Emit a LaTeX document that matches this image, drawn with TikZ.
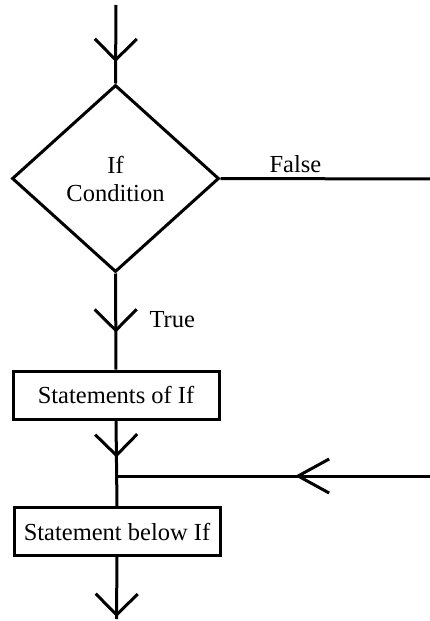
\documentclass[tikz,border=0pt]{standalone}
\usepackage{fontspec}
\setmainfont{Liberation Serif}
\usetikzlibrary{shapes.geometric,arrows.meta,decorations.markings}
\begin{document}
\begin{tikzpicture}[x=1pt,y=-1pt,
  line width=3pt, line join=miter,
  font=\fontsize{24.5}{28}\selectfont,
  decisionbox/.style={draw, diamond, inner sep=0pt, minimum width=207pt, minimum height=187pt, align=center},
  stepbox/.style={draw, rectangle, inner sep=0pt, minimum width=206pt, minimum height=48pt},
  flowlabel/.style={anchor=base west, inner sep=0pt},
  vbarb/.style={postaction={decorate}, decoration={markings,
    mark=at position #1 with {\arrow{Straight Barb[length=21pt,width=42pt]}}}},
  hbarb/.style={postaction={decorate}, decoration={markings,
    mark=at position #1 with {\arrow{Straight Barb[length=31pt,width=34pt]}}}}
]
\useasboundingbox (0,0) rectangle (430,621);

% shapes
\node[decisionbox] (cond) at (115.5,178.5) {If\\Condition};
\node[stepbox] (body) at (116,395) {Statements of If};
\node[stepbox] (after) at (117,531.5) {Statement below If};

% free ends and junction
\coordinate (entry) at (116,5);
\coordinate (falseout) at (431,179);
\coordinate (falsein) at (431,476);
\coordinate (merge) at (116.5,476);
\coordinate (exit) at (116.5,619);

% connectors
\draw[vbarb=57pt] (entry) -- (cond.north);
\draw (cond.east) -- (falseout);
\draw[vbarb=59pt] (cond.south) -- (body.north);
\draw[vbarb=37pt] (body.south) -- (after.north);
\draw[hbarb=136pt] (falsein) -- (merge);
\draw[vbarb=60pt] (after.south) -- (exit);

% labels
\node[flowlabel] (lblfalse) at (268,172) {False};
\node[flowlabel] (lbltrue) at (148,327) {True};
\end{tikzpicture}
\end{document}
